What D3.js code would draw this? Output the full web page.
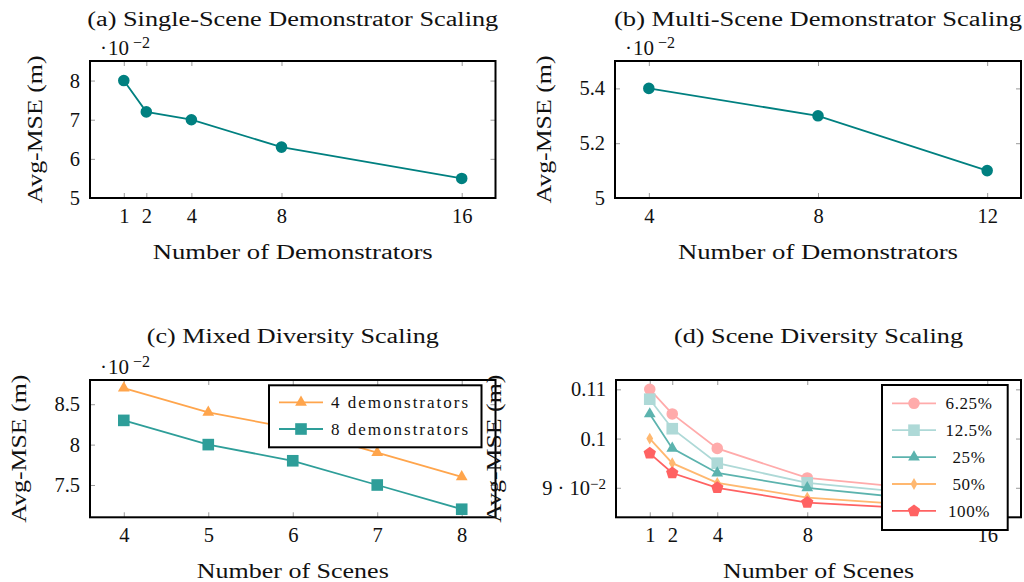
<!DOCTYPE html>
<html>
<head>
<meta charset="utf-8">
<script src="https://cdn.jsdelivr.net/npm/d3@7"></script>
<style>
  body { margin: 0; background: #fff; }
  text { font-family: "Liberation Serif", "Times New Roman", serif; fill: #111; }
</style>
</head>
<body>
<svg id="chart" width="1024" height="582"></svg>
<script>
// ---- data (values are x10^-2 where the panel shows a multiplier) ----
var demosSingle = [1, 2, 4, 8, 16];
var mseSingle = [8.0, 7.2, 7.0, 6.3, 5.5];

var demosMulti = [4, 8, 12];
var mseMulti = [5.4, 5.3, 5.1];

var scenesMixed = [4, 5, 6, 7, 8];
var mixed4 = [8.7, 8.4, 8.2, 7.9, 7.6];
var mixed8 = [8.3, 8.0, 7.8, 7.5, 7.2];
var mixedNames = ["4 demonstrators", "8 demonstrators"];

var scenesDiv = [1, 2, 4, 8, 16];
var div625 = [0.110, 0.105, 0.098, 0.092, 0.0885];
var div125 = [0.108, 0.102, 0.095, 0.091, 0.0875];
var div25 = [0.105, 0.098, 0.093, 0.090, 0.0863];
var div50 = [0.100, 0.095, 0.091, 0.088, 0.0855];
var div100 = [0.097, 0.093, 0.090, 0.087, 0.0850];
var divNames = ["6.25%", "12.5%", "25%", "50%", "100%"];

var svg = d3.select("#chart");

// pentagon marker for d3.symbol
var symbolPentagon = {
  draw: function(ctx, size){
    var r = Math.sqrt(size / 2.378);
    for (var i = 0; i < 5; i++){
      var a = -Math.PI/2 + i * 2*Math.PI/5;
      if (i == 0) ctx.moveTo(r*Math.cos(a), r*Math.sin(a));
      else ctx.lineTo(r*Math.cos(a), r*Math.sin(a));
    }
    ctx.closePath();
  }
};

function panel(cfg){
  var g = svg.append("g");
  var x = d3.scaleLinear().domain(cfg.xdom).range([cfg.left, cfg.right]);
  var y = d3.scaleLinear().domain(cfg.ydom).range([cfg.bottom, cfg.top]);

  // ticks inside, on all four sides
  var bx = g.append("g").attr("transform", "translate(0," + cfg.bottom + ")")
    .call(d3.axisBottom(x).tickValues(cfg.xticks).tickSize(-5).tickPadding(10).tickFormat(d3.format("d")));
  var tx = g.append("g").attr("transform", "translate(0," + cfg.top + ")")
    .call(d3.axisTop(x).tickValues(cfg.xticks).tickSize(-5).tickFormat(""));
  var ly = g.append("g").attr("transform", "translate(" + cfg.left + ",0)")
    .call(d3.axisLeft(y).tickValues(cfg.yticks).tickSize(-5).tickPadding(10).tickFormat(cfg.yfmt));
  var ry = g.append("g").attr("transform", "translate(" + cfg.right + ",0)")
    .call(d3.axisRight(y).tickValues(cfg.yticks).tickSize(-5).tickFormat(""));
  [bx, tx, ly, ry].forEach(function(a){
    a.select(".domain").remove();
    a.selectAll(".tick line").attr("stroke", "#9a9a9a").attr("stroke-width", 1);
    a.selectAll(".tick text").style("font-family", "Liberation Serif").style("font-size", "20.5px").attr("fill", "#111");
  });
  if (cfg.ylabelsHtml) {
    ly.selectAll(".tick text").each(function(d){
      var t = d3.select(this);
      if (cfg.ylabelsHtml[d]) {
        var p = cfg.ylabelsHtml[d];
        t.text(null);
        t.append("tspan").text(p[0]);
        t.append("tspan").attr("dy", "-0.4em").style("font-size", "15px").text(p[1]);
      }
    });
  }

  // series
  cfg.series.forEach(function(s){
    var pts = s.values.map(function(v, i){ return [cfg.xs[i], v]; });
    g.append("path").datum(pts)
      .attr("fill", "none").attr("stroke", s.color).attr("stroke-width", 1.8)
      .attr("d", d3.line().x(function(d){ return x(d[0]); }).y(function(d){ return y(d[1]); }));
    g.selectAll(null).data(pts).enter().append("path")
      .attr("transform", function(d){ return "translate(" + x(d[0]) + "," + y(d[1]) + ")"; })
      .attr("d", d3.symbol().type(s.symbol).size(s.size))
      .attr("fill", s.color);
  });

  // frame
  g.append("rect").attr("x", cfg.left).attr("y", cfg.top)
    .attr("width", cfg.right - cfg.left).attr("height", cfg.bottom - cfg.top)
    .attr("fill", "none").attr("stroke", "#000").attr("stroke-width", 2);

  var cx = (cfg.left + cfg.right) / 2;
  var cy = (cfg.top + cfg.bottom) / 2;
  g.append("text").attr("x", cx).attr("y", cfg.top - cfg.titleGap).attr("text-anchor", "middle")
    .style("font-size", "20px").attr("textLength", cfg.titleW).attr("lengthAdjust", "spacingAndGlyphs")
    .text(cfg.title);
  g.append("text").attr("x", cx).attr("y", cfg.bottom + 61).attr("text-anchor", "middle")
    .style("font-size", "20px").attr("textLength", cfg.xlabelW).attr("lengthAdjust", "spacingAndGlyphs")
    .text(cfg.xlabel);
  g.append("text").attr("transform", "translate(" + cfg.ylabelX + "," + cy + ") rotate(-90)")
    .attr("text-anchor", "middle")
    .style("font-size", "20px").attr("textLength", 148).attr("lengthAdjust", "spacingAndGlyphs")
    .text("Avg-MSE (m)");

  if (cfg.multiplier) {
    var m = g.append("text").attr("y", cfg.top - 6).style("font-size", "21px");
    m.append("tspan").attr("x", cfg.left + 10).text("\u00b7");
    m.append("tspan").attr("x", cfg.left + 18).text("10");
    m.append("tspan").attr("x", cfg.left + 43).attr("dy", "-7").style("font-size", "16px").text("\u22122");
  }

  if (cfg.legend) {
    var L = cfg.legend;
    g.append("rect").attr("x", L.x).attr("y", L.y).attr("width", L.w).attr("height", L.h)
      .attr("fill", "#fff").attr("stroke", "#000").attr("stroke-width", 2);
    cfg.series.forEach(function(s, i){
      var yy = L.y + L.first + i * L.step;
      g.append("line").attr("x1", L.x + L.lx0).attr("x2", L.x + L.lx1).attr("y1", yy).attr("y2", yy)
        .attr("stroke", s.color).attr("stroke-width", 1.8);
      g.append("path").attr("transform", "translate(" + (L.x + (L.lx0 + L.lx1) / 2) + "," + yy + ")")
        .attr("d", d3.symbol().type(s.symbol).size(s.size)).attr("fill", s.color);
      g.append("text").attr("x", L.x + L.tx).attr("y", yy).attr("dy", "0.35em")
        .attr("text-anchor", L.anchor).style("font-size", L.fs).style("letter-spacing", L.ls)
        .text(s.name);
    });
  }
}

var fmtPlain = function(d){ return String(d); };

panel({
  left: 90, right: 495.5, top: 61, bottom: 198,
  xdom: [-0.5, 17.5], ydom: [5, 8.5], xticks: demosSingle, yticks: [5, 6, 7, 8], yfmt: fmtPlain,
  xs: demosSingle,
  series: [{ values: mseSingle, color: "#008080", symbol: d3.symbolCircle, size: 105, name: "" }],
  title: "(a) Single-Scene Demonstrator Scaling", titleW: 411, titleGap: 35,
  xlabel: "Number of Demonstrators", xlabelW: 280, ylabelX: 42, multiplier: true
});

panel({
  left: 615, right: 1021, top: 61, bottom: 198,
  xdom: [3.2, 12.8], ydom: [5, 5.5], xticks: demosMulti, yticks: [5, 5.2, 5.4], yfmt: fmtPlain,
  xs: demosMulti,
  series: [{ values: mseMulti, color: "#008080", symbol: d3.symbolCircle, size: 105, name: "" }],
  title: "(b) Multi-Scene Demonstrator Scaling", titleW: 408, titleGap: 35,
  xlabel: "Number of Demonstrators", xlabelW: 280, ylabelX: 551, multiplier: true
});

panel({
  left: 90, right: 495.5, top: 380, bottom: 517.3,
  xdom: [3.6, 8.4], ydom: [7.1, 8.8], xticks: scenesMixed, yticks: [7.5, 8, 8.5], yfmt: fmtPlain,
  xs: scenesMixed,
  series: [
    { values: mixed4, color: "#FFA54C", symbol: d3.symbolTriangle, size: 60, name: mixedNames[0] },
    { values: mixed8, color: "#2E9E99", symbol: d3.symbolSquare, size: 135, name: mixedNames[1] }
  ],
  title: "(c) Mixed Diversity Scaling", titleW: 292, titleGap: 37,
  xlabel: "Number of Scenes", xlabelW: 192, ylabelX: 26, multiplier: true,
  legend: { x: 269, y: 385.3, w: 212.5, h: 62, first: 17, step: 26.7, lx0: 10, lx1: 54, tx: 62, anchor: "start", fs: "17px", ls: "2px" }
});

panel({
  left: 616, right: 1021, top: 380, bottom: 517.3,
  xdom: [-0.5, 17.5], ydom: [0.084, 0.1119], xticks: scenesDiv, yticks: [0.09, 0.1, 0.11],
  yfmt: fmtPlain, ylabelsHtml: { 0.09: ["9 \u00b7 10", "\u22122"] },
  xs: scenesDiv,
  series: [
    { values: div625, color: "#FFABAB", symbol: d3.symbolCircle, size: 105, name: divNames[0] },
    { values: div125, color: "#AED9D7", symbol: d3.symbolSquare, size: 135, name: divNames[1] },
    { values: div25, color: "#5CB3AE", symbol: d3.symbolTriangle, size: 60, name: divNames[2] },
    { values: div50, color: "#FFB870", symbol: d3.symbolDiamond, size: 40, name: divNames[3] },
    { values: div100, color: "#FF6262", symbol: symbolPentagon, size: 100, name: divNames[4] }
  ],
  title: "(d) Scene Diversity Scaling", titleW: 289, titleGap: 37,
  xlabel: "Number of Scenes", xlabelW: 191, ylabelX: 501, multiplier: false,
  legend: { x: 882, y: 385, w: 125.7, h: 145, first: 18.3, step: 26.9, lx0: 10, lx1: 54, tx: 87, anchor: "middle", fs: "17px", ls: "0.6px" }
});
</script>
</body>
</html>
